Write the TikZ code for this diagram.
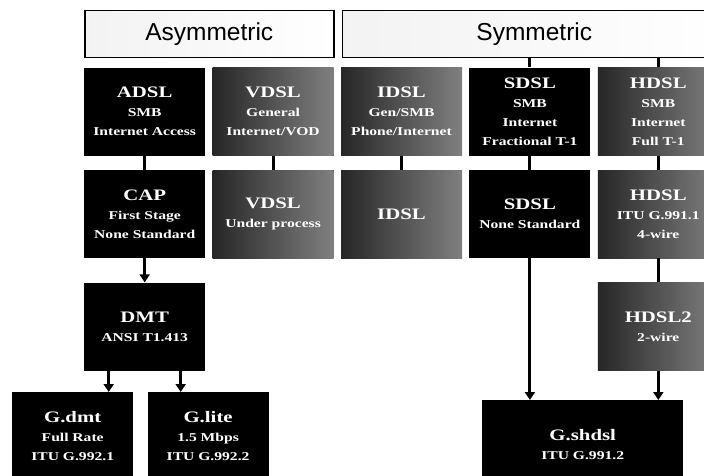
\documentclass[tikz,border=0pt]{standalone}
\usepackage{fontspec}
\setmainfont{Liberation Serif}
\setsansfont{Liberation Sans}
\newfontfamily\boxfont[FakeStretch=1.3]{Liberation Serif}
\usetikzlibrary{positioning,arrows.meta}
\tikzset{
  dsl/.style={fill=black, text=white, minimum width=121pt, minimum height=88pt, inner sep=0pt, align=center, font=\boxfont\bfseries\fontsize{12}{19}\selectfont},
  grain/.style={dsl, left color=black!85, right color=black!50},
  header/.style={draw=black, line width=1.5pt, left color=black!5, right color=white, minimum height=47pt, inner sep=0pt, font=\sffamily\fontsize{24.5}{25}\selectfont},
  link/.style={line width=3pt},
  flow/.style={link, -{Triangle[width=10pt,length=8pt]}}
}
\newcommand{\dslname}[1]{{\fontsize{16}{19}\selectfont #1}}

\begin{document}
\begin{tikzpicture}[x=1pt, y=-1pt] % coordenadas en pixeles
            \path[use as bounding box, clip] (0,0) rectangle (704,476);
            \node[header, minimum width=249pt, anchor=north west] (Asym) at (84,10) {Asymmetric};
            \node[header, minimum width=384pt, right=7pt of Asym] (Sym) {Symmetric};

            \node[dsl, below right=9pt and 0pt of Asym.south west] (ADSL) {\dslname{ADSL}\\SMB\\Internet Access};
            \node[grain, right=7pt of ADSL] (VDSL) {\dslname{VDSL}\\General\\Internet/VOD};
            \node[grain, right=7pt of VDSL] (IDSL) {\dslname{IDSL}\\Gen/SMB\\Phone/Internet};
            \node[dsl, right=7pt of IDSL] (SDSL) {\dslname{SDSL}\\SMB\\Internet\\Fractional T-1};
            \node[grain, right=7pt of SDSL] (HDSL) {\dslname{HDSL}\\SMB\\Internet\\Full T-1};

            \node[dsl, below=14pt of ADSL] (CAP) {\dslname{CAP}\\First Stage\\None Standard};
            \node[grain, below=14pt of VDSL] (VDSLb) {\dslname{VDSL}\\Under process};
            \node[grain, below=14pt of IDSL] (IDSLb) {\dslname{IDSL}};
            \node[dsl, below=14pt of SDSL] (SDSLb) {\dslname{SDSL}\\None Standard};
            \node[grain, below=14pt of HDSL] (HDSLb) {\dslname{HDSL}\\ITU G.991.1\\4-wire};

            \node[dsl, below=24pt of CAP] (DMT) {\dslname{DMT}\\ANSI T1.413};
            \node[grain, below=24pt of HDSLb] (HDSLtwo) {\dslname{HDSL2}\\2-wire};

            \node[dsl, anchor=north west] (Gdmt) at (12,392) {\dslname{G.dmt}\\Full Rate\\ITU G.992.1};
            \node[dsl, right=14pt of Gdmt] (Glite) {\dslname{G.lite}\\1.5 Mbps\\ITU G.992.2};
            \node[dsl, minimum width=201pt, anchor=north west] (Gshdsl) at (482,400) {\dslname{G.shdsl}\\ITU G.991.2};

            \draw[link] (SDSL.north) -- (SDSL.north |- Sym.south);
            \draw[link] (HDSL.north) -- (HDSL.north |- Sym.south);
            \draw[link] (ADSL) -- (CAP);
            \draw[link] (VDSL) -- (VDSLb);
            \draw[link] (IDSL) -- (IDSLb);
            \draw[link] (SDSL) -- (SDSLb);
            \draw[link] (HDSL) -- (HDSLb);
            \draw[link] (HDSLb) -- (HDSLtwo);

            \draw[flow] (CAP) -- (DMT);
            \draw[flow] ([xshift=-36pt]DMT.south) -- ([xshift=-36pt]DMT.south |- Gdmt.north);
            \draw[flow] ([xshift=36pt]DMT.south) -- ([xshift=36pt]DMT.south |- Glite.north);
            \draw[flow] (SDSLb.south) -- (SDSLb.south |- Gshdsl.north);
            \draw[flow] (HDSLtwo.south) -- (HDSLtwo.south |- Gshdsl.north);
        \end{tikzpicture}
\end{document}
